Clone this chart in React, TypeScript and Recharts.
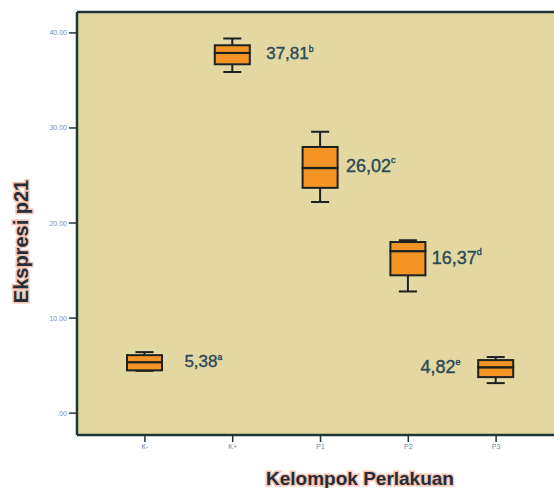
import React from 'react';
import { ComposedChart, Bar, Scatter, XAxis, YAxis, CartesianGrid, Label, ReferenceLine } from 'recharts';

const groups = ['K-', 'K+', 'P1', 'P2', 'P3'];
const minVals = [4.45, 35.9, 22.2, 12.8, 3.16];
const q1Vals = [4.5, 36.7, 23.7, 14.5, 3.79];
const medianVals = [5.37, 37.9, 25.8, 17.05, 4.84];
const q3Vals = [6.1, 38.7, 28.0, 18.0, 5.58];
const maxVals = [6.42, 39.4, 29.6, 18.2, 5.9];
const meanVals = [5.38, 37.81, 26.02, 16.37, 4.82];
const meanLetters = ['a', 'b', 'c', 'd', 'e'];
const yTicks = [0, 10, 20, 30, 40];
const yDomain = [-2.3, 42.2];

// label styling (not data)
const labelGap = [22, 16, 8, 6, -18];
const labelSize = [17, 17, 18, 18, 18];

const data = groups.map((name, i) => ({
  name,
  base: minVals[i],
  lowerWhisker: q1Vals[i] - minVals[i],
  lowerBox: medianVals[i] - q1Vals[i],
  upperBox: q3Vals[i] - medianVals[i],
  upperWhisker: maxVals[i] - q3Vals[i],
  mean: meanVals[i],
}));

const BG = '#E3D8A2';
const FRAME = '#1f3636';
const ORANGE = '#F39424';
const STROKE = '#1c2222';
const CAP = 9;

const Empty = () => <g />;

const LowerWhisker = (p: any) => {
  const cx = p.x + p.width / 2;
  return (
    <g>
      <line x1={cx} x2={cx} y1={p.y} y2={p.y + p.height} stroke={STROKE} strokeWidth={2} />
      <line x1={cx - CAP} x2={cx + CAP} y1={p.y + p.height} y2={p.y + p.height} stroke={STROKE} strokeWidth={2} />
    </g>
  );
};

const UpperWhisker = (p: any) => {
  const cx = p.x + p.width / 2;
  return (
    <g>
      <line x1={cx} x2={cx} y1={p.y} y2={p.y + p.height} stroke={STROKE} strokeWidth={2} />
      <line x1={cx - CAP} x2={cx + CAP} y1={p.y} y2={p.y} stroke={STROKE} strokeWidth={2} />
    </g>
  );
};

const LowerBox = (p: any) => (
  <g>
    <rect x={p.x} y={p.y} width={p.width} height={p.height} fill={ORANGE} stroke={STROKE} strokeWidth={2} />
    <line x1={p.x} x2={p.x + p.width} y1={p.y} y2={p.y} stroke={STROKE} strokeWidth={2.5} />
  </g>
);

const UpperBox = (p: any) => (
  <g>
    <rect x={p.x} y={p.y} width={p.width} height={p.height} fill={ORANGE} stroke={STROKE} strokeWidth={2} />
  </g>
);

const MeanLabel = (p: any) => {
  const i = groups.indexOf(p.payload?.name);
  if (i < 0) return <g />;
  const half = 17.5;
  const gap = labelGap[i];
  const size = labelSize[i];
  const x = gap >= 0 ? p.cx + half + gap : p.cx - half + gap;
  const anchor = gap >= 0 ? 'start' : 'end';
  const txt = meanVals[i].toFixed(2).replace('.', ',');
  return (
    <text x={x} y={p.cy} textAnchor={anchor} dominantBaseline="central" fontFamily="'Liberation Sans', Arial, sans-serif"
      fontSize={size} fill="#2b4a57" stroke="#2b4a57" strokeWidth={0.4}>
      {txt}
      <tspan dy={-size * 0.3} fontSize={size * 0.5}>{meanLetters[i]}</tspan>
    </text>
  );
};

const YTitle = (props: any) => {
  const vb = props.viewBox || { x: 0, y: 12, width: 77, height: 423 };
  const x = 21;
  const y = vb.y + vb.height / 2 + 18;
  return (
    <text x={x} y={y} transform={`rotate(-90 ${x} ${y})`} textAnchor="middle" dominantBaseline="central"
      fontFamily="'Liberation Sans', Arial, sans-serif" fontWeight="bold" fontSize={20} fill="#262c38"
      stroke="#f3c4b4" strokeWidth={3} paintOrder="stroke">
      Ekspresi p21
    </text>
  );
};

const XTitle = () => (
  <text x={360} y={478} textAnchor="middle" dominantBaseline="central"
    fontFamily="'Liberation Sans', Arial, sans-serif" fontWeight="bold" fontSize={19} fill="#262c38"
    stroke="#f3c4b4" strokeWidth={3} paintOrder="stroke">
    Kelompok Perlakuan
  </text>
);

export default function App() {
  return (
    <div style={{ position: 'absolute', left: 0, top: 0, width: 554, height: 488, overflow: 'hidden', background: '#fff' }}>
      <ComposedChart width={600} height={488} data={data} margin={{ top: 12, right: 0, bottom: 0, left: 0 }}>
        <CartesianGrid horizontal={false} vertical={false} fill={BG} fillOpacity={1} />
        <XAxis dataKey="name" type="category" height={53} padding={{ left: 24, right: 60 }}
          axisLine={{ stroke: FRAME, strokeWidth: 2.5 }} tickLine={{ stroke: FRAME, strokeWidth: 1.5 }} tickSize={7}
          tick={{ fontSize: 7, fill: '#6a88a8', fontFamily: "'Liberation Sans', Arial, sans-serif" }} interval={0}>
          <Label content={<XTitle />} />
        </XAxis>
        <YAxis type="number" width={77} domain={yDomain} ticks={yTicks} allowDataOverflow
          tickFormatter={(v: number) => (v === 0 ? '.00' : v.toFixed(2))}
          axisLine={{ stroke: FRAME, strokeWidth: 2.5 }} tickLine={{ stroke: FRAME, strokeWidth: 1.5 }} tickSize={8}
          tick={{ fontSize: 7, fill: '#7a90a8', fontFamily: "'Liberation Sans', Arial, sans-serif" }}>
          <Label content={<YTitle />} />
        </YAxis>
        <ReferenceLine y={yDomain[1]} stroke={FRAME} strokeWidth={2.5} ifOverflow="visible" />
        <Bar dataKey="base" stackId="box" barSize={35} shape={<Empty />} isAnimationActive={false} />
        <Bar dataKey="lowerWhisker" stackId="box" barSize={35} shape={<LowerWhisker />} isAnimationActive={false} />
        <Bar dataKey="lowerBox" stackId="box" barSize={35} shape={<LowerBox />} isAnimationActive={false} />
        <Bar dataKey="upperBox" stackId="box" barSize={35} shape={<UpperBox />} isAnimationActive={false} />
        <Bar dataKey="upperWhisker" stackId="box" barSize={35} shape={<UpperWhisker />} isAnimationActive={false} />
        <Scatter dataKey="mean" shape={<MeanLabel />} isAnimationActive={false} />
      </ComposedChart>
    </div>
  );
}
